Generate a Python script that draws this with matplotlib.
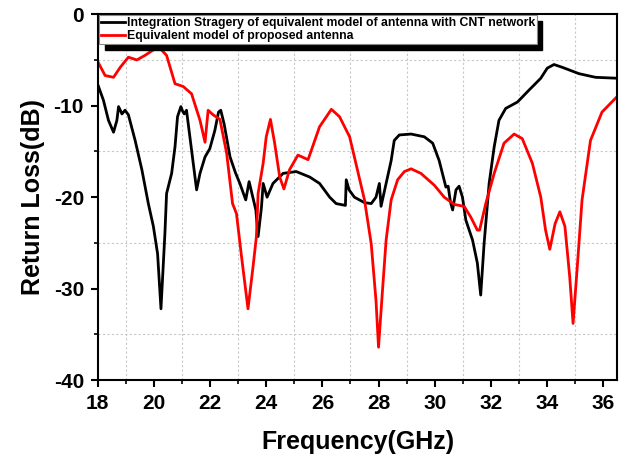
import matplotlib
matplotlib.use("Agg")
import matplotlib.pyplot as plt
from matplotlib.patches import Rectangle
from matplotlib.ticker import MultipleLocator

plt.rcParams['font.family'] = ['Liberation Sans', 'DejaVu Sans']
plt.rcParams['font.weight'] = 'bold'
plt.rcParams['axes.unicode_minus'] = False

# CNT network model (black)
freq_cnt = [18.0, 18.2, 18.38, 18.56, 18.68, 18.74, 18.86, 18.97, 19.09, 19.33,
            19.57, 19.8, 19.98, 20.13, 20.25, 20.39, 20.45, 20.63, 20.75, 20.84,
            20.96, 21.02, 21.08, 21.16, 21.28, 21.52, 21.64, 21.82, 21.99, 22.17,
            22.3, 22.38, 22.5, 22.71, 22.9, 23.06, 23.27, 23.39, 23.63, 23.71,
            23.83, 23.89, 24.03, 24.24, 24.6, 25.07, 25.55, 25.9, 26.26, 26.49,
            26.82, 26.85, 26.95, 27.14, 27.5, 27.74, 27.91, 28.03, 28.09, 28.27,
            28.45, 28.56, 28.74, 29.16, 29.63, 29.93, 30.16, 30.4, 30.48, 30.56,
            30.64, 30.76, 30.87, 30.99, 31.11, 31.35, 31.52, 31.64, 31.76, 31.94,
            32.12, 32.29, 32.53, 32.95, 33.36, 33.78, 34.01, 34.25, 34.54, 35.14,
            35.73, 36.5]
rl_cnt = [-7.7, -9.4, -11.6, -12.9, -11.6, -10.1, -10.9, -10.5, -11.0, -13.8,
          -17.0, -20.7, -23.2, -26.2, -32.2, -24.0, -19.6, -17.4, -14.5, -11.2,
          -10.1, -10.6, -10.9, -10.5, -13.4, -19.2, -17.4, -15.6, -14.7, -12.7,
          -10.7, -10.5, -12.0, -15.6, -17.3, -18.5, -20.3, -18.3, -21.4, -24.3,
          -21.1, -18.5, -20.0, -18.5, -17.4, -17.2, -17.8, -18.5, -20.0, -20.7,
          -20.9, -18.1, -19.2, -20.0, -20.6, -20.7, -20.0, -18.5, -21.0, -18.5,
          -16.0, -13.8, -13.2, -13.1, -13.4, -14.1, -16.0, -18.9, -18.8, -20.5,
          -21.4, -19.2, -18.8, -20.0, -22.5, -24.7, -27.2, -30.7, -25.1, -18.5,
          -14.5, -11.6, -10.3, -9.6, -8.3, -7.0, -5.9, -5.5, -5.8, -6.5,
          -6.9, -7.0]

# proposed antenna model (red)
freq_prop = [18.0, 18.26, 18.56, 18.8, 19.09, 19.39, 19.68, 19.98, 20.22, 20.45,
             20.75, 21.04, 21.34, 21.64, 21.82, 21.93, 22.11, 22.35, 22.59, 22.8,
             22.94, 23.12, 23.35, 23.53, 23.65, 23.71, 23.89, 24.0, 24.15, 24.3,
             24.48, 24.63, 24.83, 25.13, 25.49, 25.9, 26.32, 26.61, 26.97, 27.14,
             27.5, 27.74, 27.91, 28.0, 28.15, 28.27, 28.45, 28.68, 28.92, 29.16,
             29.51, 29.99, 30.34, 30.7, 31.05, 31.29, 31.52, 31.6, 31.82, 32.12,
             32.47, 32.83, 33.12, 33.48, 33.78, 33.95, 34.1, 34.29, 34.46, 34.64,
             34.81, 34.93, 35.08, 35.25, 35.55, 35.96, 36.5]
rl_prop = [-5.2, -6.7, -6.9, -5.8, -4.7, -5.0, -4.5, -3.9, -3.75, -4.5,
           -7.6, -7.9, -8.7, -11.6, -14.0, -10.5, -11.0, -11.5, -15.2, -20.7,
           -21.8, -26.5, -32.2, -27.6, -24.3, -19.6, -16.3, -13.4, -11.5, -14.1,
           -17.8, -19.1, -17.0, -15.4, -15.9, -12.3, -10.4, -11.2, -13.4, -15.6,
           -20.3, -25.1, -31.3, -36.4, -29.8, -24.7, -20.3, -18.1, -17.2, -16.9,
           -17.4, -18.7, -20.0, -20.8, -21.0, -22.2, -23.6, -23.6, -20.7, -17.4,
           -14.1, -13.1, -13.6, -16.3, -20.0, -23.6, -25.7, -22.9, -21.6, -23.2,
           -28.7, -33.8, -27.6, -20.3, -13.8, -10.7, -9.0]

fig = plt.figure(figsize=(6.19, 4.58), dpi=100)
ax = fig.add_axes([0.158, 0.170, 0.839, 0.799])

ax.plot(freq_cnt, rl_cnt, color='black', lw=2,
        label='Integration Stragery of equivalent model of antenna with CNT network')
ax.plot(freq_prop, rl_prop, color='red', lw=2,
        label='Equivalent model of proposed antenna')

ax.set_xlim(18, 36.5)
ax.set_ylim(-40, 0)
ax.xaxis.set_major_locator(MultipleLocator(2))
ax.xaxis.set_minor_locator(MultipleLocator(1))
ax.yaxis.set_major_locator(MultipleLocator(10))
ax.yaxis.set_minor_locator(MultipleLocator(5))
ax.grid(which='minor', color='#c8c8c8', linestyle=(0, (2, 2)), lw=0.8)
ax.grid(which='major', visible=False)

for s in ax.spines.values():
    s.set_linewidth(1.5)
ax.tick_params(which='major', direction='out', length=5, width=1.5, labelsize=15, pad=5)
ax.tick_params(which='minor', direction='out', length=3, width=1.2)
for lbl in ax.get_xticklabels() + ax.get_yticklabels():
    lbl.set_fontweight('bold')

ax.set_xlabel('Frequency(GHz)', fontsize=18, fontweight='bold', labelpad=12)
ax.set_ylabel('Return Loss(dB)', fontsize=18, fontweight='bold', labelpad=6)

leg = ax.legend(loc='upper left', prop={'size': 8.8, 'weight': 'bold'},
                fancybox=False, edgecolor='#888888', framealpha=1,
                borderaxespad=0.1, handlelength=2.0, handletextpad=0.1,
                labelspacing=0.05, borderpad=0.15)
leg.get_frame().set_linewidth(0.8)
leg.set_zorder(5)

# hard black shadow behind the legend
fig.canvas.draw()
bb = leg.get_window_extent().transformed(fig.transFigure.inverted())
ax.add_patch(Rectangle((bb.x0 + 0.009, bb.y0 - 0.013), bb.width, bb.height,
                       transform=fig.transFigure, color='black', zorder=4,
                       clip_on=False))

fig.savefig('out.png', dpi=100)
